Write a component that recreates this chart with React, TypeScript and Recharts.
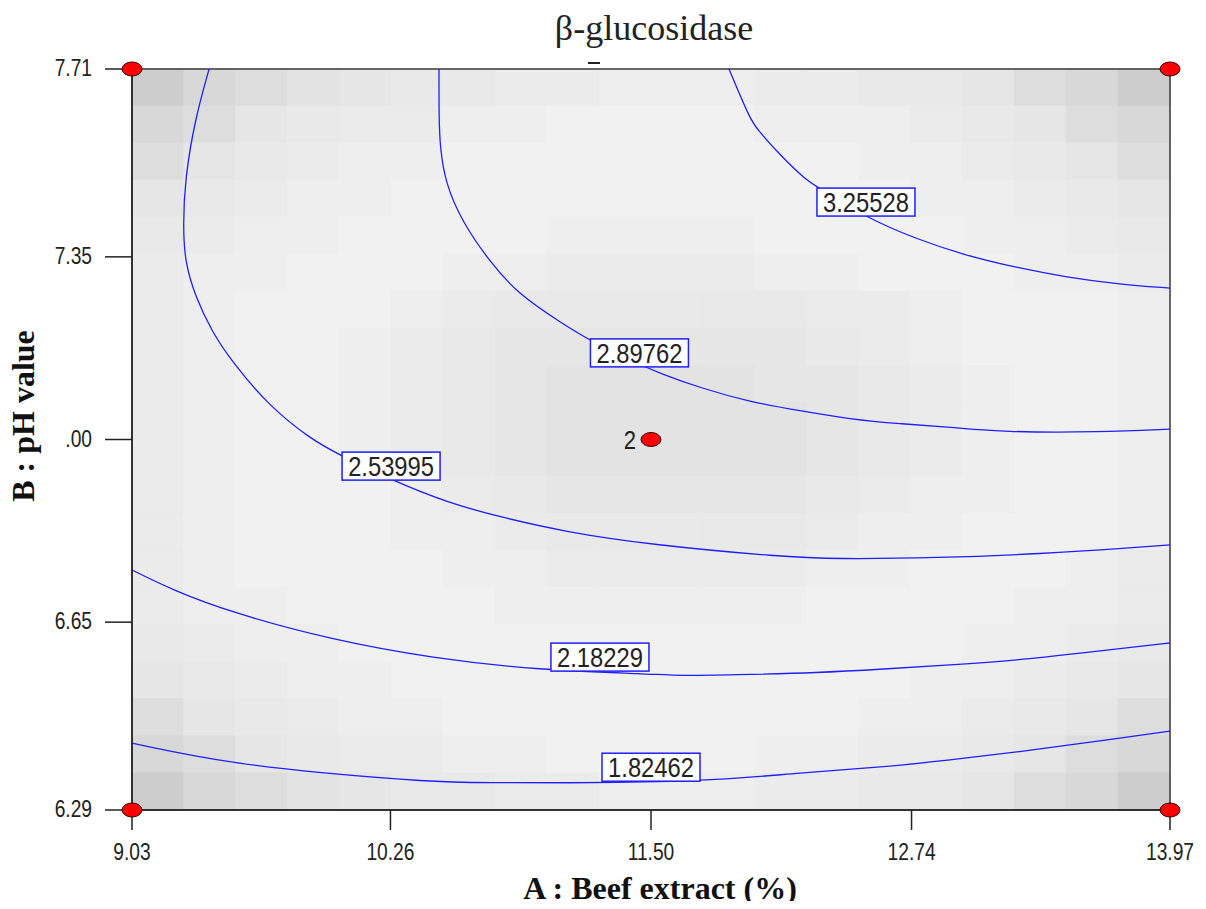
import * as React from "react";
import {
  ComposedChart,
  Line,
  Scatter,
  XAxis,
  YAxis,
  ReferenceArea,
  ReferenceDot,
} from "recharts";

// axis ticks
const xTicks = [9.03, 10.26, 11.5, 12.74, 13.97];
const xTickLabels = ["9.03", "10.26", "11.50", "12.74", "13.97"];
const yTicks = [6.29, 6.65, 7.0, 7.35, 7.71];
const yTickLabels = ["6.29", "6.65", ".00", "7.35", "7.71"];

// contour lines (A : beef extract, B : pH)
const c325528 = [
  { x: 11.871, y: 7.71 }, { x: 11.971, y: 7.614 }, { x: 12.005, y: 7.595 },
  { x: 12.1, y: 7.551 }, { x: 12.242, y: 7.495 }, { x: 12.295, y: 7.484 },
  { x: 12.528, y: 7.424 }, { x: 12.766, y: 7.384 }, { x: 12.985, y: 7.354 },
  { x: 13.242, y: 7.329 }, { x: 13.48, y: 7.311 }, { x: 13.718, y: 7.298 },
  { x: 13.97, y: 7.29 },
];
const c289762 = [
  { x: 10.491, y: 7.71 }, { x: 10.491, y: 7.614 }, { x: 10.496, y: 7.562 },
  { x: 10.52, y: 7.493 }, { x: 10.601, y: 7.417 }, { x: 10.734, y: 7.34 },
  { x: 10.867, y: 7.279 }, { x: 11.067, y: 7.225 }, { x: 11.21, y: 7.189 },
  { x: 11.448, y: 7.143 }, { x: 11.543, y: 7.127 }, { x: 11.733, y: 7.099 },
  { x: 11.971, y: 7.072 }, { x: 12.209, y: 7.055 }, { x: 12.447, y: 7.039 },
  { x: 12.685, y: 7.03 }, { x: 12.923, y: 7.024 }, { x: 13.175, y: 7.014 },
  { x: 13.637, y: 7.014 }, { x: 13.97, y: 7.02 },
];
const c253995 = [
  { x: 9.397, y: 7.71 }, { x: 9.33, y: 7.614 }, { x: 9.282, y: 7.499 },
  { x: 9.273, y: 7.409 }, { x: 9.282, y: 7.34 }, { x: 9.33, y: 7.275 },
  { x: 9.411, y: 7.206 }, { x: 9.506, y: 7.149 }, { x: 9.682, y: 7.064 },
  { x: 9.887, y: 6.999 }, { x: 10.02, y: 6.97 }, { x: 10.267, y: 6.922 },
  { x: 10.539, y: 6.878 }, { x: 10.777, y: 6.852 }, { x: 11.091, y: 6.823 },
  { x: 11.505, y: 6.798 }, { x: 12.128, y: 6.775 }, { x: 12.376, y: 6.771 },
  { x: 12.861, y: 6.773 }, { x: 13.361, y: 6.781 }, { x: 13.78, y: 6.792 },
  { x: 13.97, y: 6.798 },
];
const c218229 = [
  { x: 9.03, y: 6.75 }, { x: 9.22, y: 6.712 }, { x: 9.506, y: 6.668 },
  { x: 9.982, y: 6.616 }, { x: 10.458, y: 6.581 }, { x: 10.967, y: 6.558 },
  { x: 11.495, y: 6.551 }, { x: 11.638, y: 6.547 }, { x: 11.876, y: 6.549 },
  { x: 12.304, y: 6.553 }, { x: 12.604, y: 6.56 }, { x: 12.923, y: 6.568 },
  { x: 13.242, y: 6.577 }, { x: 13.556, y: 6.591 }, { x: 13.794, y: 6.602 },
  { x: 13.97, y: 6.61 },
];
const c182462 = [
  { x: 9.03, y: 6.418 }, { x: 9.458, y: 6.382 }, { x: 9.92, y: 6.361 },
  { x: 10.458, y: 6.344 }, { x: 10.648, y: 6.342 }, { x: 11.386, y: 6.342 },
  { x: 11.814, y: 6.347 }, { x: 12.209, y: 6.361 }, { x: 12.604, y: 6.372 },
  { x: 12.923, y: 6.386 }, { x: 13.242, y: 6.401 }, { x: 13.556, y: 6.418 },
  { x: 13.97, y: 6.441 },
];
const contours = [c325528, c289762, c253995, c218229, c182462];

// contour value labels
const contourLabels = [
  { text: "3.25528", x: 12.523, y: 7.455 },
  { text: "2.89762", x: 11.445, y: 7.166 },
  { text: "2.53995", x: 10.263, y: 6.949 },
  { text: "2.18229", x: 11.257, y: 6.583 },
  { text: "1.82462", x: 11.5, y: 6.372 },
];

// design points
const designPoints = [
  { x: 9.03, y: 6.29, tag: "" },
  { x: 9.03, y: 7.71, tag: "" },
  { x: 13.97, y: 6.29, tag: "" },
  { x: 13.97, y: 7.71, tag: "" },
  { x: 11.5, y: 7.0, tag: "2" },
];

// background shading, 20 x 20 cells, top row first (0 = darkest, 9 = lightest)
const shadeRows = [
  "02345667788877665320",
  "23567788999988876532",
  "35678899999999887653",
  "56788999999999988765",
  "67889999888899998876",
  "78899988777788999887",
  "78999876666667789998",
  "78998765555556789998",
  "78998765444455678998",
  "78998765444445678998",
  "78998765444445678998",
  "78999876555556788998",
  "78999887666667889998",
  "78999988777778899987",
  "78899998888889999887",
  "67889999999999998876",
  "56788999999999988765",
  "35678899999999887653",
  "23567788999988776532",
  "02345667788877665320",
];
const shadeLevels = [
  "#cdcdcd", "#d3d3d3", "#d8d8d8", "#dddddd", "#e3e3e3",
  "#e6e6e6", "#e9e9e9", "#ebebeb", "#eeeeee", "#f1f1f1",
];

const X_MIN = 9.03;
const X_MAX = 13.97;
const Y_MIN = 6.29;
const Y_MAX = 7.71;
const BLUE = "#1f1fff";
const SANS = "'Liberation Sans', Arial, sans-serif";
const SERIF = "'Liberation Serif', 'Times New Roman', serif";

const XTick = (props: any) => {
  const { x, y, payload } = props;
  const i = xTicks.indexOf(payload.value);
  return (
    <g transform={`translate(${x},${y})`}>
      <text transform="scale(0.8,1)" textAnchor="middle" dy="0.72em" fontSize={24} fill="#222" fontFamily={SANS}>
        {i >= 0 ? xTickLabels[i] : payload.value}
      </text>
    </g>
  );
};

const YTick = (props: any) => {
  const { x, y, payload } = props;
  const i = yTicks.indexOf(payload.value);
  return (
    <g transform={`translate(${x},${y})`}>
      <text transform="scale(0.8,1)" textAnchor="end" dy="0.3em" fontSize={24} fill="#222" fontFamily={SANS}>
        {i >= 0 ? yTickLabels[i] : payload.value}
      </text>
    </g>
  );
};

const LabelBox = ({ cx, cy, text }: { cx: number; cy: number; text: string }) => (
  <g transform={`translate(${cx},${cy})`}>
    <rect x={-49} y={-14} width={98} height={28} fill="#fff" stroke={BLUE} strokeWidth={1.5} />
    <text transform="scale(0.88,1)" textAnchor="middle" dy="0.36em" fontSize={27} fill="#222" fontFamily={SANS}>
      {text}
    </text>
  </g>
);

const DesignDot = (props: any) => {
  const { cx, cy, payload } = props;
  return (
    <g>
      <ellipse cx={cx} cy={cy} rx={10} ry={7} fill="#ff0000" stroke="#3a0000" strokeWidth={1} />
      {payload && payload.tag ? (
        <g transform={`translate(${cx - 15},${cy})`}>
          <text transform="scale(0.85,1)" textAnchor="end" dy="0.36em" fontSize={26} fill="#222" fontFamily={SANS}>
            {payload.tag}
          </text>
        </g>
      ) : null}
    </g>
  );
};

export default function App() {
  const nCols = shadeRows[0].length;
  const nRows = shadeRows.length;
  const cw = (X_MAX - X_MIN) / nCols;
  const ch = (Y_MAX - Y_MIN) / nRows;

  const cells: React.ReactNode[] = [];
  shadeRows.forEach((row, r) => {
    row.split("").forEach((d, c) => {
      const fill = shadeLevels[Number(d)];
      cells.push(
        <ReferenceArea
          key={`cell-${r}-${c}`}
          x1={X_MIN + c * cw}
          x2={X_MIN + (c + 1) * cw}
          y1={Y_MAX - (r + 1) * ch}
          y2={Y_MAX - r * ch}
          fill={fill}
          fillOpacity={1}
          stroke={fill}
          strokeWidth={1}
          ifOverflow="visible"
        />
      );
    });
  });

  return (
    <div style={{ position: "relative", width: 1190, height: 893 }}>
      <ComposedChart width={1190} height={893} margin={{ top: 61, right: 28, bottom: 51, left: 0 }}>
        <XAxis
          type="number"
          dataKey="x"
          domain={[X_MIN, X_MAX]}
          ticks={xTicks}
          tick={<XTick />}
          tickSize={20}
          tickMargin={13}
          height={40}
          axisLine={{ stroke: "#222", strokeWidth: 1.5 }}
          tickLine={{ stroke: "#222", strokeWidth: 1.5 }}
        />
        <YAxis
          type="number"
          dataKey="y"
          domain={[Y_MIN, Y_MAX]}
          ticks={yTicks}
          tick={<YTick />}
          tickSize={27}
          tickMargin={13}
          width={124}
          axisLine={{ stroke: "#222", strokeWidth: 1.5 }}
          tickLine={{ stroke: "#222", strokeWidth: 1.5 }}
        />
        {cells}
        <ReferenceArea
          x1={X_MIN}
          x2={X_MAX}
          y1={Y_MIN}
          y2={Y_MAX}
          fill="none"
          stroke="#3a3a3a"
          strokeWidth={1.5}
          ifOverflow="visible"
        />
        {contours.map((c, i) => (
          <Line
            key={`contour-${i}`}
            data={c}
            dataKey="y"
            type="basis"
            stroke={BLUE}
            strokeWidth={1.3}
            dot={false}
            activeDot={false}
            isAnimationActive={false}
          />
        ))}
        {contourLabels.map((l) => (
          <ReferenceDot
            key={l.text}
            x={l.x}
            y={l.y}
            r={1}
            shape={(p: any) => <LabelBox cx={p.cx} cy={p.cy} text={l.text} />}
          />
        ))}
        <Scatter data={designPoints} dataKey="y" shape={<DesignDot />} isAnimationActive={false} />
      </ComposedChart>
      <svg
        width={1190}
        height={901}
        style={{ position: "absolute", left: 0, top: 0, overflow: "visible", pointerEvents: "none" }}
      >
        <text x={646} y={32} textAnchor="middle" fontSize={36} fill="#222" fontFamily={SERIF}>
          β-glucosidase
        </text>
        <line x1={580} x2={592} y1={55} y2={55} stroke="#222" strokeWidth={2} />
        <text x={652} y={891} textAnchor="middle" fontSize={32} fontWeight="bold" fill="#111" fontFamily={SERIF}>
          A : Beef extract (%)
        </text>
        <text
          transform="translate(26,408) rotate(-90)"
          textAnchor="middle"
          fontSize={32}
          fontWeight="bold"
          fill="#111"
          fontFamily={SERIF}
        >
          B : pH value
        </text>
      </svg>
    </div>
  );
}
